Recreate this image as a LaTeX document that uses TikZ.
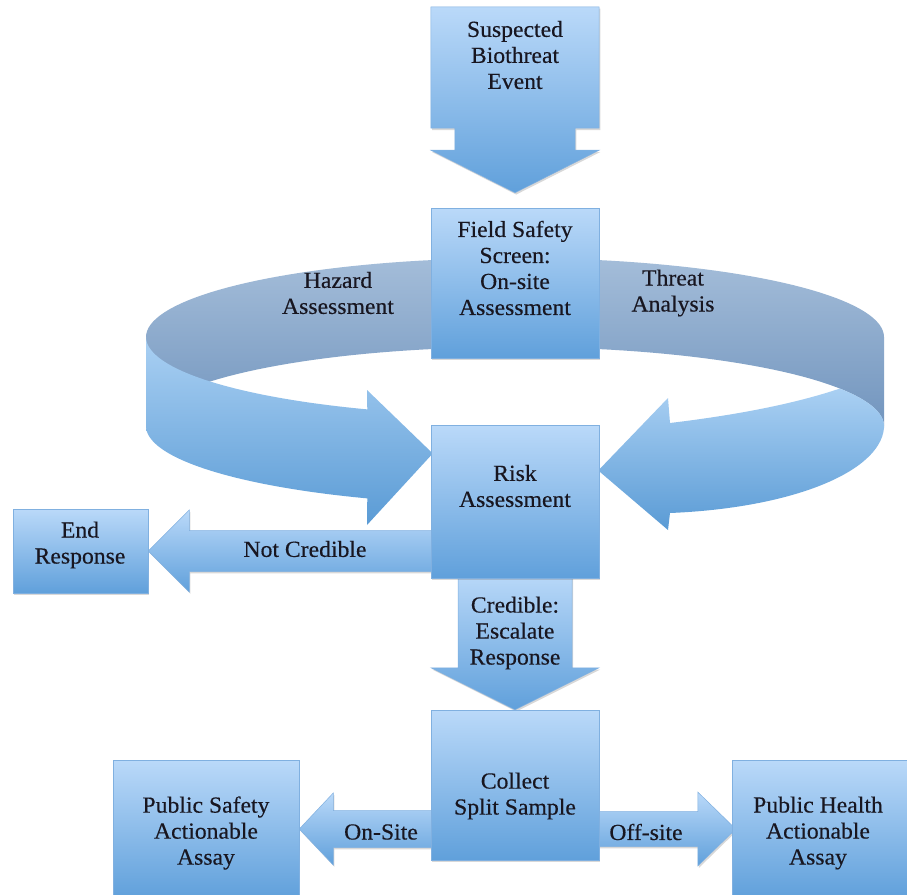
\documentclass[tikz,border=0pt]{standalone}
\usepackage{fontspec}
\setmainfont{Liberation Serif}
\newfontfamily\labelfont{Liberation Serif}[FakeBold=0.35, FakeStretch=1.03]
\usetikzlibrary{calc,shadows,backgrounds}

\definecolor{boxtop}{RGB}{186,217,249}
\definecolor{boxbot}{RGB}{96,160,219}
\definecolor{boxedge}{RGB}{128,176,224}
\definecolor{backtop}{RGB}{164,189,217}
\definecolor{backbot}{RGB}{114,149,190}
\definecolor{fronttop}{RGB}{170,208,243}
\definecolor{frontbot}{RGB}{90,155,213}
\definecolor{ink}{RGB}{24,22,32}

\tikzset{
  softshadow/.style={drop shadow={shadow xshift=1.2pt, shadow yshift=-1.8pt, opacity=.25, fill=black!60}},
  stagebox/.style={rectangle, inner sep=0pt, minimum width=168pt,
    top color=boxtop, bottom color=boxbot, draw=boxedge, line width=.5pt, softshadow},
  blockarrow/.style={top color=boxtop, bottom color=boxbot, draw=boxedge, line width=.5pt, softshadow},
  lbl/.style={align=center, text=ink, font=\labelfont\fontsize{23}{26}\selectfont, inner sep=0pt},
}

% horizontal block arrow: tail, tip, shaft half-width, head half-width, head length
\newcommand\hblockarrow[5]{%
  \shade[blockarrow]
    ($(#1)+(0,-#3)$) -- ($(#2)!#5pt!(#1)+(0,-#3)$) -- ($(#2)!#5pt!(#1)+(0,-#4)$)
    -- (#2) -- ($(#2)!#5pt!(#1)+(0,#4)$) -- ($(#2)!#5pt!(#1)+(0,#3)$)
    -- ($(#1)+(0,#3)$) -- cycle;}

\begin{document}
\begin{tikzpicture}[x=1pt,y=-1pt]
\useasboundingbox (0,0) rectangle (907,894);

% stage boxes
\node[stagebox, minimum height=150pt] (field) at (515,283) {};
\node[stagebox, minimum height=153pt] (risk) at (515,501.5) {};
\node[stagebox, minimum width=135pt, minimum height=84pt] (endr) at (80.5,551) {};
\node[stagebox, minimum height=150pt] (collect) at (515,785) {};
\node[stagebox, minimum width=186pt, minimum height=138pt] (psafe) at (206,829) {};
\node[stagebox, minimum width=180pt, minimum height=138pt] (phealth) at (822,829) {};
\path node[rectangle, inner sep=0pt, minimum width=168pt, minimum height=121pt] (susp) at (515,67.5) {};

\begin{scope}[on background layer]
  \fill[white] (0,0) rectangle (907,894);

  % far side of the ring
  \shade[top color=backtop, bottom color=backbot]
    plot[domain=180:360, samples=80, variable=\t] ({515+369*cos(\t)},{337+79*sin(\t)})
    -- plot[domain=360:180, samples=80, variable=\t] ({515+369*cos(\t)},{426+79*sin(\t)})
    -- cycle;

  % near side, left half, ending in an arrowhead
  \shade[top color=fronttop, bottom color=frontbot]
    plot[domain=180:113.6, samples=50, variable=\t] ({515+369*cos(\t)},{337+79*sin(\t)})
    -- (367,390) -- ($(risk.west)+(2,-48)$) -- (367,525)
    -- plot[domain=113.6:180, samples=50, variable=\t] ({515+369*cos(\t)},{426+79*sin(\t)})
    -- cycle;

  % near side, right half, ending in an arrowhead
  \shade[top color=fronttop, bottom color=frontbot]
    (670,423) .. controls (745,414) and (800,402) .. (840,388.5)
    -- plot[domain=331.7:360, samples=30, variable=\t] ({515+369*cos(\t)},{426+79*sin(\t)})
    -- (884,428) .. controls (880,472) and (792,508) .. (670,513)
    -- (668,530) -- ($(risk.east)+(-1,-31)$) -- (668,398) -- cycle;

  % suspected event callout pointing at the field screen
  \coordinate (susp-tip) at ($(field.north)+(0,-15)$);
  \shade[blockarrow] (susp.north west) -- (susp.north east) -- (susp.south east)
    -- ++(-24,0) -- ++(0,22) -- ++(24,0) -- (susp-tip)
    -- ($(susp.south west)+(0,22)$) -- ++(24,0) -- ++(0,-22) -- (susp.south west) -- cycle;

  % not credible
  \coordinate (nc-tail) at ($(risk.west |- endr.east)+(6,0)$);
  \hblockarrow{nc-tail}{endr.east}{20.5}{41}{41}

  % credible: escalate
  \shade[blockarrow] ($(risk.south)+(-57,-6)$) -- ($(collect.north)+(-57,-42)$)
    -- ($(collect.north)+(-84,-42)$) -- (collect.north) -- ($(collect.north)+(84,-42)$)
    -- ($(collect.north)+(57,-42)$) -- ($(risk.south)+(57,-6)$) -- cycle;

  % split sample branches
  \coordinate (on-tail) at ($(collect.west |- psafe.east)+(6,0)$);
  \hblockarrow{on-tail}{psafe.east}{18.5}{36}{34}
  \coordinate (off-tail) at ($(collect.east |- phealth.west)+(-6,0)$);
  \coordinate (off-tip) at ($(phealth.west)+(4,0)$);
  \hblockarrow{off-tail}{off-tip}{17.5}{37}{38}
\end{scope}

% texts
\node[lbl] (susp-t) at (515,55) {Suspected\\Biothreat\\Event};
\node[lbl] (field-t) at (515,268) {Field Safety\\Screen:\\On-site\\Assessment};
\node[lbl] (hazard-t) at (338,293) {Hazard\\Assessment};
\node[lbl] (threat-t) at (673,293) {Threat\\Analysis};
\node[lbl] (risk-t) at (515,486) {Risk\\Assessment};
\node[lbl] (endr-t) at (80,545) {End\\Response};
\node[lbl] (nc-t) at (305,549) {Not Credible};
\node[lbl] (cred-t) at (515,633) {Credible:\\Escalate\\Response};
\node[lbl] (collect-t) at (515,796) {Collect\\Split Sample};
\node[lbl] (onsite-t) at (381,832) {On-Site};
\node[lbl] (offsite-t) at (646,832) {Off-site};
\node[lbl] (psafe-t) at (206,833) {Public Safety\\Actionable\\Assay};
\node[lbl] (phealth-t) at (818,833) {Public Health\\Actionable\\Assay};
\end{tikzpicture}
\end{document}
